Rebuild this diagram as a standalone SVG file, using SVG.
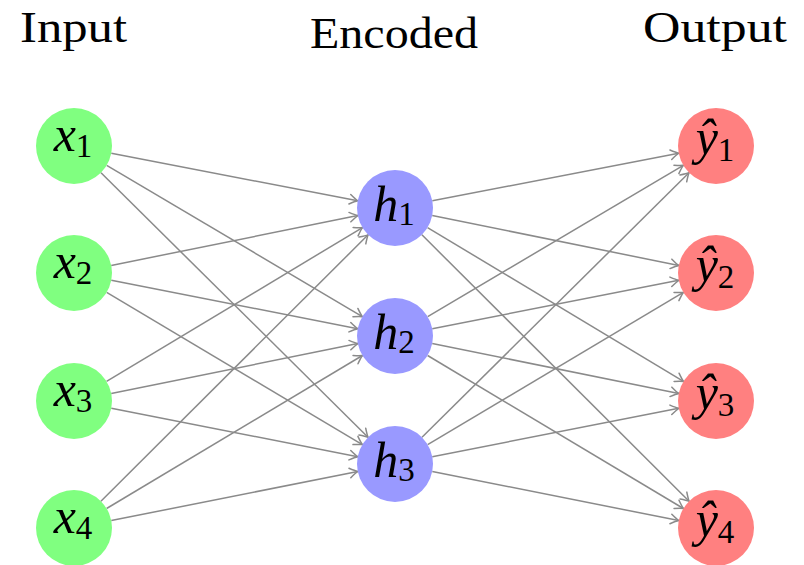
<svg xmlns="http://www.w3.org/2000/svg" width="804" height="565" viewBox="0 0 804 565">
  <style>
    .title { font-family: "Liberation Serif", "Times New Roman", serif; font-size: 44px; fill: #000; }
    .lbl { font-family: "Liberation Serif", "Times New Roman", serif; font-size: 50px; fill: #000; text-anchor: middle; }
    .lbl .v { font-style: italic; }
    .lbl .s { font-size: 33px; }
    .in { fill: #80ff80; }
    .hid { fill: #9999ff; }
    .out { fill: #ff8080; }
    #edges line { stroke: #8a8a8a; stroke-width: 1.5; fill: none; marker-end: url(#arr); }
  </style>
  <defs>
    <marker id="arr" viewBox="-9 -6 11 12" refX="0" refY="0" markerWidth="11" markerHeight="12" markerUnits="userSpaceOnUse" orient="auto">
      <path d="M -8 -4.8 Q -2.5 -1.1 0 0 Q -2.5 1.1 -8 4.8" fill="none" stroke="#8a8a8a" stroke-width="1.5" stroke-linecap="round" stroke-linejoin="round"/>
    </marker>
  </defs>
  <rect width="804" height="565" fill="#fff"/>

  <!-- column headings -->
  <text class="title" x="20" y="42" textLength="107" lengthAdjust="spacingAndGlyphs">Input</text>
  <text class="title" x="310" y="48" textLength="168" lengthAdjust="spacingAndGlyphs">Encoded</text>
  <text class="title" x="643" y="42" textLength="144" lengthAdjust="spacingAndGlyphs">Output</text>

  <!-- connectors: every input to every code unit, every code unit to every output -->
  <g id="edges">
    <line x1="111.31" y1="153.21" x2="357.69" y2="200.79"/>
    <line x1="106.70" y1="165.36" x2="362.30" y2="316.64"/>
    <line x1="101.00" y1="172.75" x2="368.00" y2="437.25"/>
    <line x1="111.24" y1="265.46" x2="357.76" y2="215.54"/>
    <line x1="111.29" y1="280.32" x2="357.71" y2="328.68"/>
    <line x1="106.67" y1="292.44" x2="362.33" y2="444.56"/>
    <line x1="106.56" y1="381.42" x2="362.44" y2="227.58"/>
    <line x1="111.24" y1="393.46" x2="357.76" y2="343.54"/>
    <line x1="111.29" y1="408.32" x2="357.71" y2="456.68"/>
    <line x1="100.91" y1="501.17" x2="368.09" y2="234.83"/>
    <line x1="106.61" y1="508.49" x2="362.39" y2="355.51"/>
    <line x1="111.27" y1="520.57" x2="357.73" y2="471.43"/>

    <line x1="432.31" y1="200.79" x2="678.69" y2="153.21"/>
    <line x1="432.24" y1="215.54" x2="678.76" y2="265.46"/>
    <line x1="427.56" y1="227.58" x2="683.44" y2="381.42"/>
    <line x1="421.91" y1="234.83" x2="689.09" y2="501.17"/>
    <line x1="427.70" y1="316.64" x2="683.30" y2="165.36"/>
    <line x1="432.29" y1="328.68" x2="678.71" y2="280.32"/>
    <line x1="432.24" y1="343.54" x2="678.76" y2="393.46"/>
    <line x1="427.61" y1="355.51" x2="683.39" y2="508.49"/>
    <line x1="422.00" y1="437.25" x2="689.00" y2="172.75"/>
    <line x1="427.67" y1="444.56" x2="683.33" y2="292.44"/>
    <line x1="432.29" y1="456.68" x2="678.71" y2="408.32"/>
    <line x1="432.27" y1="471.43" x2="678.73" y2="520.57"/>
  </g>

  <!-- input layer -->
  <g id="x1"><circle class="in" cx="74" cy="146" r="38"/><text class="lbl" x="73" y="151"><tspan class="v">x</tspan><tspan class="s" dy="6">1</tspan></text></g>
  <g id="x2"><circle class="in" cx="74" cy="273" r="38"/><text class="lbl" x="73" y="278"><tspan class="v">x</tspan><tspan class="s" dy="6">2</tspan></text></g>
  <g id="x3"><circle class="in" cx="74" cy="401" r="38"/><text class="lbl" x="73" y="406"><tspan class="v">x</tspan><tspan class="s" dy="6">3</tspan></text></g>
  <g id="x4"><circle class="in" cx="74" cy="528" r="38"/><text class="lbl" x="73" y="533"><tspan class="v">x</tspan><tspan class="s" dy="6">4</tspan></text></g>

  <!-- code layer -->
  <g id="h1"><circle class="hid" cx="395" cy="208" r="38"/><text class="lbl" x="394" y="221"><tspan class="v">h</tspan><tspan class="s" dy="4">1</tspan></text></g>
  <g id="h2"><circle class="hid" cx="395" cy="336" r="38"/><text class="lbl" x="394" y="349"><tspan class="v">h</tspan><tspan class="s" dy="4">2</tspan></text></g>
  <g id="h3"><circle class="hid" cx="395" cy="464" r="38"/><text class="lbl" x="394" y="477"><tspan class="v">h</tspan><tspan class="s" dy="4">3</tspan></text></g>

  <!-- output layer -->
  <g id="y1"><circle class="out" cx="716" cy="146" r="38"/><text class="lbl" x="715" y="154"><tspan class="v">ŷ</tspan><tspan class="s" dy="7">1</tspan></text></g>
  <g id="y2"><circle class="out" cx="716" cy="273" r="38"/><text class="lbl" x="715" y="281"><tspan class="v">ŷ</tspan><tspan class="s" dy="7">2</tspan></text></g>
  <g id="y3"><circle class="out" cx="716" cy="401" r="38"/><text class="lbl" x="715" y="409"><tspan class="v">ŷ</tspan><tspan class="s" dy="7">3</tspan></text></g>
  <g id="y4"><circle class="out" cx="716" cy="528" r="38"/><text class="lbl" x="715" y="536"><tspan class="v">ŷ</tspan><tspan class="s" dy="7">4</tspan></text></g>
</svg>
